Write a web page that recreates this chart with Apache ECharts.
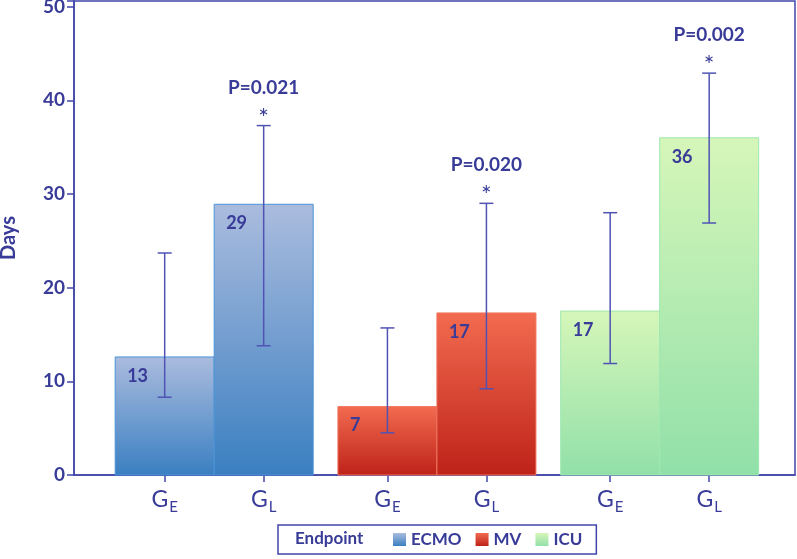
<!DOCTYPE html>
<html><head><meta charset="utf-8">
<script src="https://cdn.jsdelivr.net/npm/echarts@6/dist/echarts.min.js"></script>
<style>html,body{margin:0;padding:0;background:#fff}#c{width:797px;height:559px}</style>
</head><body><div id="c"></div>
<script>
// ---- data ----
const endpoints = ['ECMO', 'MV', 'ICU'];
const groupSubs = ['E', 'L'];
const ecmoMean = [12.6, 28.9];
const ecmoLow  = [8.3, 13.8];
const ecmoHigh = [23.7, 37.3];
const ecmoText = ['13', '29'];
const mvMean = [7.3, 17.3];
const mvLow  = [4.5, 9.2];
const mvHigh = [15.7, 29.0];
const mvText = ['7', '17'];
const icuMean = [17.5, 36.0];
const icuLow  = [11.9, 26.9];
const icuHigh = [28.0, 42.9];
const icuText = ['17', '36'];
const pValues = ['P=0.021', 'P=0.020', 'P=0.002'];
const yTicks = [0, 10, 20, 30, 40, 50];

// ---- styles ----
const TXT = '#383b97';
const AXIS = '#4145a8';
const ERR = '#5053b4';
const FONT = 'Lato';
const gradTop = ['#abbcde', '#f26b50', '#d6f6b9'];
const gradBot = ['#3a7fc1', '#be2218', '#91e0a9'];
const borders = ['#4a93d8', '#f0735a', '#9fe9b2'];
const GROUP_STEP = 2.25;

const means = [ecmoMean, mvMean, icuMean];
const lows = [ecmoLow, mvLow, icuLow];
const highs = [ecmoHigh, mvHigh, icuHigh];
const texts = [ecmoText, mvText, icuText];

const positions = [];
endpoints.forEach((e, i) => groupSubs.forEach((g, j) => positions.push(i * GROUP_STEP + j)));

function grad(i) {
  return new echarts.graphic.LinearGradient(0, 0, 0, 1, [
    { offset: 0, color: gradTop[i] }, { offset: 1, color: gradBot[i] }
  ]);
}

function makeRender(ei) {
  return function (params, api) {
    const j = params.dataIndex;
    const x = api.value(0), m = api.value(1), lo = api.value(2), hi = api.value(3);
    const w = api.size([1, 0])[0];
    const base = api.coord([x, 0]);
    const top = api.coord([x, m]);
    const pLo = api.coord([x, lo]);
    const pHi = api.coord([x, hi]);
    const left = base[0] - w / 2;
    const cx = base[0];
    const children = [
      { type: 'rect', shape: { x: left, y: top[1], width: w, height: base[1] - top[1] },
        style: { fill: grad(ei), stroke: borders[ei], lineWidth: 1 } },
      { type: 'text', style: { x: left + 12, y: top[1] + 19, text: texts[ei][j],
        fontFamily: FONT, fontWeight: 'bold', fontSize: 18, fill: TXT, verticalAlign: 'middle' } },
      { type: 'line', shape: { x1: cx, y1: pLo[1], x2: cx, y2: pHi[1] }, style: { stroke: ERR, lineWidth: 1.5 } },
      { type: 'line', shape: { x1: cx - 7, y1: pLo[1], x2: cx + 7, y2: pLo[1] }, style: { stroke: ERR, lineWidth: 1.5 } },
      { type: 'line', shape: { x1: cx - 7, y1: pHi[1], x2: cx + 7, y2: pHi[1] }, style: { stroke: ERR, lineWidth: 1.5 } }
    ];
    if (j === 1) {
      children.push({ type: 'text', style: { x: cx, y: pHi[1] - 38, text: pValues[ei],
        fontFamily: FONT, fontWeight: 'bold', fontSize: 19, fill: TXT, align: 'center', verticalAlign: 'middle' } });
      children.push({ type: 'text', style: { x: cx, y: pHi[1] - 7, text: '*',
        fontFamily: FONT, fontSize: 25, fill: TXT, align: 'center', verticalAlign: 'middle' } });
    }
    return { type: 'group', children: children };
  };
}

const series = endpoints.map((name, i) => ({
  name: name,
  type: 'custom',
  renderItem: makeRender(i),
  encode: { x: 0, y: 1 },
  itemStyle: { color: grad(i), borderColor: borders[i] },
  data: groupSubs.map((g, j) => [i * GROUP_STEP + j, means[i][j], lows[i][j], highs[i][j]]),
  z: 3
}));

const chart = echarts.init(document.getElementById('c'), null, { renderer: 'canvas' });
chart.setOption({
  animation: false,
  grid: { left: 74, right: 2, top: 1, bottom: 84, show: true, borderColor: AXIS, borderWidth: 1.5,
          containLabel: false, outerBoundsMode: 'none' },
  xAxis: {
    type: 'value', min: -0.916, max: 6.367,
    splitLine: { show: false },
    axisLine: { show: true, onZero: false, lineStyle: { color: AXIS, width: 1.5 } },
    axisTick: { show: true, length: 7, customValues: positions, lineStyle: { color: AXIS, width: 1.5 } },
    axisLabel: {
      customValues: positions, margin: 13,
      formatter: function (v) {
        const idx = positions.findIndex(p => Math.abs(p - v) < 1e-6);
        return '{g|G}{s|' + groupSubs[idx % 2] + '}';
      },
      rich: {
        g: { fontFamily: FONT, fontSize: 23, color: TXT, lineHeight: 26, verticalAlign: 'top' },
        s: { fontFamily: FONT, fontSize: 15, color: TXT, lineHeight: 26, padding: [12, 0, 0, 1], verticalAlign: 'top' }
      }
    }
  },
  yAxis: {
    type: 'value', min: 0, max: 50.6, interval: 10,
    name: 'Days', nameLocation: 'middle', nameGap: 55,
    nameTextStyle: { fontFamily: FONT, fontWeight: 'bold', fontSize: 20, color: TXT },
    splitLine: { show: false },
    axisLine: { show: true, onZero: false, lineStyle: { color: AXIS, width: 1.5 } },
    axisTick: { show: true, length: 7, lineStyle: { color: AXIS, width: 1.5 } },
    axisLabel: {
      margin: 9, fontFamily: FONT, fontWeight: 'bold', fontSize: 19, color: TXT,
      formatter: v => (yTicks.indexOf(v) >= 0 ? String(v) : '')
    }
  },
  legend: {
    data: endpoints, left: 278, top: 525, icon: 'rect',
    itemWidth: 13, itemHeight: 13, itemGap: 14,
    padding: [6, 14, 6, 115],
    borderColor: AXIS, borderWidth: 1.5, borderRadius: 0,
    textStyle: { fontFamily: FONT, fontWeight: 'bold', fontSize: 17, color: TXT }
  },
  graphic: [{
    type: 'text', left: 295, top: 530,
    style: { text: 'Endpoint', fontFamily: FONT, fontWeight: 'bold', fontSize: 17, fill: TXT }
  }],
  series: series
});
</script></body></html>
